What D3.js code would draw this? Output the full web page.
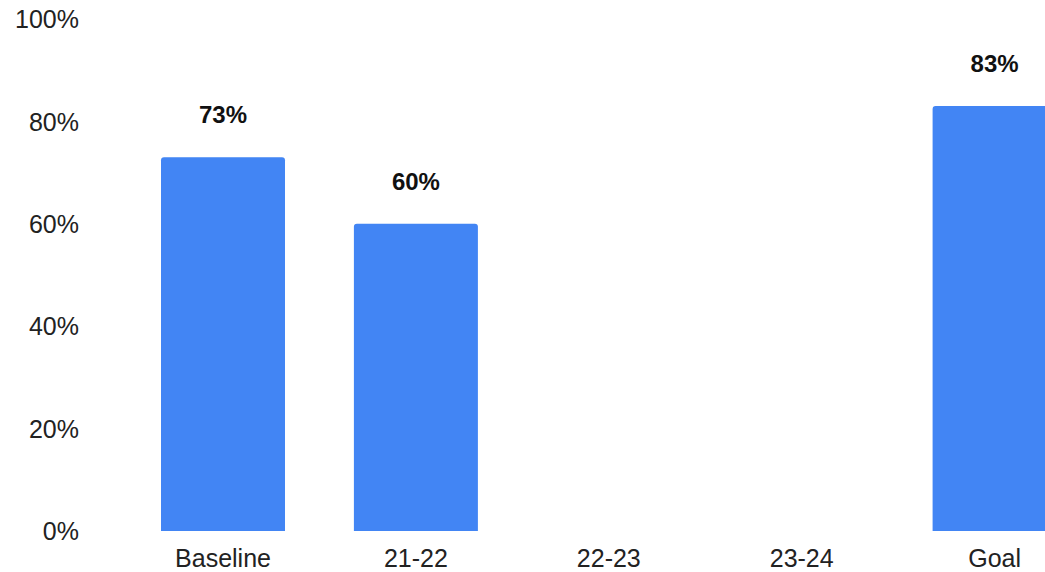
<!DOCTYPE html>
<html>
<head>
<meta charset="utf-8">
<script src="https://cdn.jsdelivr.net/npm/d3@7"></script>
<style>
  html, body { margin: 0; padding: 0; background: #fff; overflow: hidden; }
  svg { display: block; }
  text { font-family: "Liberation Sans", Arial, sans-serif; }
</style>
</head>
<body>
<svg id="chart" width="1045" height="572"></svg>
<script>
const categories = ["Baseline", "21-22", "22-23", "23-24", "Goal"];
const values = [73, 60, null, null, 83];
const yTicks = [0, 20, 40, 60, 80, 100];

const svg = d3.select("#chart");

const step = 192.9;
const pIn = 1 - 124 / step;
const r0 = 161 - (pIn / 2) * step;
const x = d3.scaleBand()
  .domain(categories)
  .range([r0, r0 + 5 * step])
  .paddingInner(pIn)
  .paddingOuter(pIn / 2);

const y = d3.scaleLinear().domain([0, 100]).range([531, 19]);

// Y axis labels
const yAxis = d3.axisLeft(y).tickValues(yTicks).tickFormat(d => d + "%").tickSize(0).tickPadding(0);
const yg = svg.append("g").attr("transform", "translate(79,0)").call(yAxis);
yg.select(".domain").remove();
yg.selectAll("text")
  .attr("font-family", "Liberation Sans, Arial, sans-serif")
  .attr("font-size", 25)
  .attr("fill", "#222")
  .attr("dy", "0.35em");

// X axis labels
const xAxis = d3.axisBottom(x).tickSize(0).tickPadding(0);
const xg = svg.append("g").attr("transform", "translate(0,549)").call(xAxis);
xg.select(".domain").remove();
xg.selectAll("text")
  .attr("font-family", "Liberation Sans, Arial, sans-serif")
  .attr("font-size", 25)
  .attr("fill", "#222")
  .attr("dy", "0.71em");

const data = categories.map((c, i) => ({ c, v: values[i] })).filter(d => d.v != null);

function barPath(d) {
  const x0 = x(d.c), w = x.bandwidth(), y0 = y(d.v), y1 = y(0), r = 3;
  return `M${x0},${y1}V${y0 + r}Q${x0},${y0} ${x0 + r},${y0}H${x0 + w - r}Q${x0 + w},${y0} ${x0 + w},${y0 + r}V${y1}Z`;
}

svg.append("g").selectAll("path")
  .data(data)
  .join("path")
  .attr("d", barPath)
  .attr("fill", "#4285f4");

svg.append("g").selectAll("text")
  .data(data)
  .join("text")
  .attr("x", d => x(d.c) + x.bandwidth() / 2)
  .attr("y", d => y(d.v) - 34)
  .attr("text-anchor", "middle")
  .attr("font-size", 24)
  .attr("font-weight", "bold")
  .attr("fill", "#111")
  .text(d => d.v + "%");
</script>
</body>
</html>
